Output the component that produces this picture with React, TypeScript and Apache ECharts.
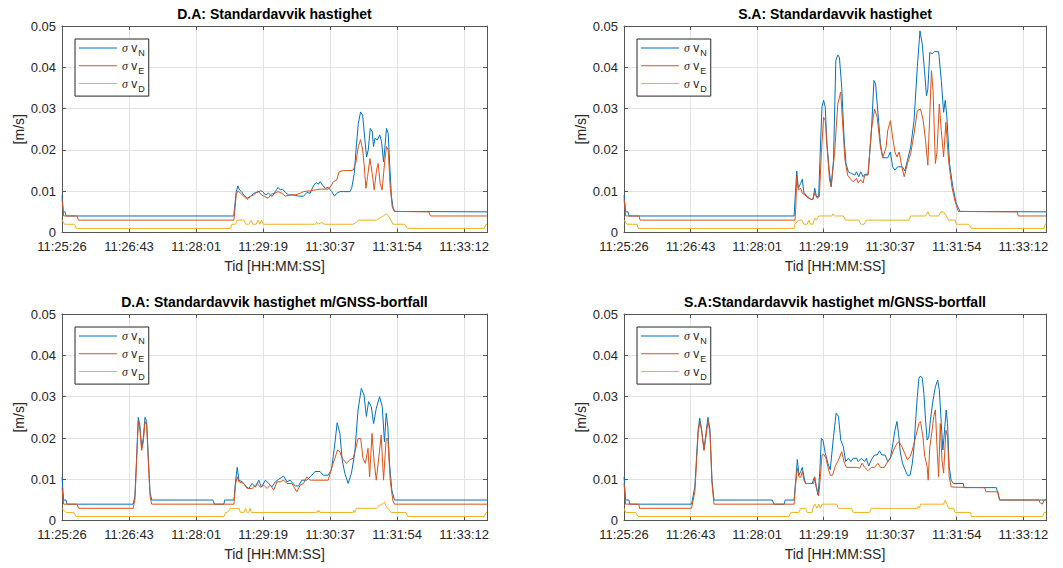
import React, { useEffect, useRef } from 'react';
import * as echarts from 'echarts';

// Time axis: seconds after 11:25:26, seven labelled ticks 466/6 s apart
const TICK_STEP = 466 / 6;
const X_MAX = 492.5;
const timeLabels = ['11:25:26', '11:26:43', '11:28:01', '11:29:19', '11:30:37', '11:31:54', '11:33:12'];

const panelTitles = [
  'D.A: Standardavvik hastighet',
  'S.A: Standardavvik hastighet',
  'D.A: Standardavvik hastighet m/GNSS-bortfall',
  'S.A:Standardavvik hastighet m/GNSS-bortfall',
];
const components = ['N', 'E', 'D'];
const seriesNames = components.map((c) => `σ v${c}`);
const seriesColors = ['#0072BD', '#D95319', '#EDB120'];

// D.A: Standardavvik hastighet  [t (s), sigma (m/s)]
const daN = [[0,0.009],[1.5,0.005],[3.5,0.005],[5,0.004],[199,0.004],[201.9,0.0099],[203.8,0.0113],[205.7,0.0103],[208,0.0099],[210.7,0.0091],[214.5,0.0083],[218.4,0.0087],[222.2,0.0095],[226.1,0.0097],[229.9,0.0101],[232.6,0.0099],[235.7,0.0091],[239.5,0.0095],[243.4,0.0087],[247.2,0.0099],[250.3,0.0109],[253,0.0103],[255.7,0.0105],[258.8,0.0097],[262.6,0.0091],[268.4,0.0091],[274.1,0.0088],[279.9,0.0088],[283.8,0.0097],[287.6,0.0095],[291.4,0.0113],[294.5,0.0121],[297.2,0.0117],[299.1,0.0123],[301.8,0.0115],[304.9,0.0107],[308.7,0.0109],[312.6,0.0099],[315.7,0.0088],[318.4,0.0095],[322,0.0099],[333.7,0.0099],[335.7,0.0107],[338.7,0.0143],[340.7,0.02],[343.4,0.0264],[346,0.0292],[348.4,0.0284],[351,0.0224],[353,0.0183],[354.9,0.02],[357.2,0.0252],[359.5,0.0244],[361,0.0208],[362.6,0.0228],[365.3,0.0224],[368.3,0.0236],[370.3,0.022],[372.6,0.0171],[374.1,0.0204],[376,0.0252],[378,0.024],[379.9,0.0159],[381.8,0.0087],[383.7,0.0059],[385.6,0.0051],[492.5,0.005]];
const daE = [[0,0.008],[2,0.004],[17.5,0.004],[19,0.003],[199.2,0.003],[201.9,0.0091],[203.8,0.0101],[206.9,0.0095],[210.7,0.0088],[214.5,0.008],[218.4,0.0088],[222.2,0.0091],[227.2,0.0101],[231.1,0.0091],[234.9,0.0087],[238.8,0.0083],[242.6,0.0093],[246.5,0.0095],[250.3,0.0099],[254.9,0.0095],[258.8,0.0088],[264.5,0.0091],[270.3,0.0091],[276.1,0.0095],[279.9,0.0099],[287.6,0.0101],[293.4,0.0103],[299.1,0.0105],[308.7,0.0105],[311.8,0.0113],[314.5,0.0123],[318.4,0.0127],[321.1,0.0147],[326,0.015],[333.7,0.015],[337.6,0.0151],[340.7,0.0171],[343.4,0.0208],[346,0.0225],[348.4,0.02],[350.3,0.0159],[352.2,0.0107],[354.1,0.0135],[356.8,0.0179],[359.5,0.0143],[361.8,0.0103],[364.5,0.0151],[366.4,0.0167],[368.7,0.0119],[371,0.0103],[374.1,0.0175],[376,0.0208],[378,0.02],[380.3,0.0111],[382.6,0.0063],[384.9,0.0051],[425,0.005],[427,0.004],[492.5,0.004]];
const daD = [[0,0.003],[3,0.002],[14.4,0.002],[16.4,0.001],[195.3,0.001],[197,0.002],[201,0.002],[203,0.003],[210.7,0.003],[213.4,0.002],[216.5,0.002],[219.2,0.003],[221.1,0.002],[224.9,0.002],[227.2,0.003],[229.5,0.002],[231.1,0.003],[233.4,0.002],[293.4,0.002],[295.3,0.0025],[297.2,0.002],[301.1,0.0025],[304.1,0.002],[337.6,0.002],[341.4,0.0025],[343.4,0.003],[364.5,0.003],[368.3,0.0035],[372.2,0.004],[376,0.0045],[378,0.004],[379.9,0.0035],[383.7,0.002],[397.2,0.002],[400.3,0.001],[489.3,0.001],[491.3,0.002],[492.5,0.002]];

// S.A: Standardavvik hastighet
const saN = [[0,0.009],[2,0.005],[4.7,0.005],[5.9,0.004],[198.5,0.004],[201.6,0.0149],[203.5,0.0107],[206.2,0.0119],[208.1,0.0129],[210,0.0095],[213.8,0.0089],[217.7,0.008],[220.7,0.0081],[222.6,0.0107],[224.6,0.0087],[227.2,0.0087],[229.2,0.0207],[231.1,0.0305],[233,0.032],[234.9,0.0303],[236.8,0.0215],[239.5,0.0151],[241.8,0.0111],[244.5,0.0175],[247.2,0.0416],[249.5,0.043],[251.4,0.0424],[254.1,0.0352],[256.8,0.0231],[259.1,0.0167],[261.8,0.0147],[265.6,0.0143],[269.4,0.0139],[271.4,0.0147],[274,0.0135],[276.3,0.0147],[279,0.0135],[281,0.0141],[284.8,0.0141],[288.6,0.0239],[291.7,0.0368],[293.6,0.036],[296.3,0.0291],[299.3,0.0215],[302,0.0181],[307.8,0.0181],[310.9,0.0195],[313.5,0.0159],[316.2,0.0151],[319.3,0.0159],[325,0.0159],[327.7,0.0149],[330.8,0.0175],[334.6,0.0207],[338.5,0.0271],[342.3,0.04],[345.4,0.0488],[348.1,0.0456],[350.7,0.0392],[353,0.0331],[354.6,0.0347],[356.9,0.0436],[359.6,0.0433],[362.2,0.0438],[367.2,0.0438],[370.3,0.0368],[373,0.0291],[374.9,0.032],[376.8,0.028],[379.9,0.0167],[383.7,0.0111],[387.6,0.0072],[390.2,0.0059],[392.2,0.0051],[492.5,0.005]];
const saE = [[0,0.008],[2,0.004],[17.6,0.004],[18.8,0.003],[199.6,0.003],[200.5,0.0063],[201.6,0.0135],[203.5,0.0103],[206.2,0.0107],[208.1,0.0095],[211.1,0.0091],[215,0.0083],[220.3,0.0079],[222.6,0.0096],[225.3,0.0083],[228,0.0087],[230.3,0.0191],[233,0.0279],[234.9,0.0271],[237.6,0.0191],[239.9,0.0127],[241.8,0.0111],[245.7,0.0191],[249.5,0.0311],[252.9,0.034],[255.2,0.0263],[257.9,0.0175],[261,0.0139],[264.8,0.0128],[267.5,0.0123],[271.4,0.0131],[273.3,0.012],[276.3,0.0128],[279,0.012],[281,0.0139],[284.8,0.0139],[288.6,0.0247],[292.4,0.0299],[295.5,0.0279],[299.3,0.0207],[302,0.0181],[305.9,0.0207],[307.8,0.0247],[310.9,0.0271],[313.5,0.0231],[316.2,0.0195],[318.5,0.0183],[321.2,0.0195],[323.9,0.0163],[327,0.0135],[330.8,0.0167],[334.6,0.0191],[338.5,0.0239],[342.3,0.0295],[346.1,0.0299],[349.2,0.0271],[351.9,0.0223],[354.6,0.0163],[356.9,0.0287],[358.8,0.0392],[360.7,0.0343],[363.4,0.0167],[365.3,0.0195],[368,0.0311],[370.3,0.0247],[373,0.0183],[375.7,0.0267],[378.7,0.0175],[382.6,0.0111],[386.4,0.0075],[390.2,0.0051],[459,0.005],[460,0.004],[492.5,0.004]];
const saD = [[0,0.003],[3.5,0.002],[15.5,0.002],[16.4,0.001],[198.5,0.001],[199.6,0.002],[203.5,0.003],[207.3,0.003],[210,0.002],[213.8,0.002],[215.7,0.003],[217.7,0.002],[220.3,0.002],[222.6,0.0035],[224.6,0.003],[227.2,0.004],[242.6,0.004],[243.7,0.0045],[245.7,0.004],[256,0.004],[258.7,0.003],[274,0.003],[276.3,0.002],[280.2,0.002],[282.9,0.003],[332.7,0.003],[334.6,0.004],[351.9,0.004],[354.6,0.005],[356.9,0.004],[367.2,0.004],[369.9,0.005],[373,0.005],[376.1,0.004],[378.7,0.003],[386.4,0.003],[388,0.002],[402.4,0.002],[405.5,0.001],[490.3,0.001],[491.5,0.002],[492.5,0.002]];

// D.A: Standardavvik hastighet m/GNSS-bortfall
const daGapN = [[0,0.0105],[1.9,0.005],[4.7,0.005],[5.8,0.004],[82.5,0.004],[84.5,0.006],[86.4,0.015],[88.4,0.025],[90.3,0.023],[92.3,0.0175],[94.2,0.02],[96.2,0.025],[98.1,0.024],[100.1,0.015],[102,0.007],[103.9,0.005],[174.8,0.005],[176.7,0.004],[187.6,0.004],[188.5,0.005],[199.3,0.005],[201.2,0.0098],[203.1,0.0129],[205,0.0098],[208.8,0.0094],[212.7,0.0084],[216.5,0.0078],[220.3,0.009],[224.2,0.0081],[228,0.0098],[231.1,0.0081],[235.7,0.0098],[239.5,0.009],[243.4,0.0082],[247.2,0.0094],[251,0.01],[256.8,0.0108],[260.6,0.0094],[264.4,0.0098],[270.2,0.0084],[274,0.0084],[277.9,0.0098],[283.6,0.0098],[289.4,0.011],[293.2,0.0119],[299,0.0119],[302.8,0.011],[308.5,0.011],[312.4,0.0124],[316.2,0.0187],[318.9,0.0237],[322,0.0211],[324.7,0.0147],[327.7,0.0115],[331.6,0.009],[335.4,0.0115],[339.2,0.0163],[343.1,0.0268],[346.9,0.032],[350,0.0304],[352.7,0.0252],[355.3,0.0288],[358.4,0.0276],[361.1,0.0235],[364.2,0.0272],[368,0.03],[371.1,0.0276],[373.7,0.0191],[375.7,0.026],[377.6,0.0227],[379.5,0.0139],[382.2,0.0074],[385.3,0.005],[492.5,0.005]];
const daGapE = [[0,0.008],[1.9,0.004],[17.5,0.004],[19.1,0.003],[82.5,0.003],[84.5,0.005],[86.4,0.014],[88.4,0.024],[90.3,0.022],[92.3,0.017],[94.2,0.019],[96.2,0.024],[98.1,0.023],[100.1,0.014],[102,0.006],[103.9,0.004],[199.3,0.004],[201.2,0.009],[203.1,0.0106],[205,0.0094],[210.8,0.009],[214.6,0.0078],[220.3,0.0078],[226.1,0.009],[229.9,0.0081],[233.8,0.0086],[237.6,0.0078],[241.4,0.0086],[245.3,0.0074],[249.1,0.0094],[252.9,0.0094],[256.8,0.0098],[260.6,0.009],[266.4,0.009],[272.1,0.007],[276,0.0086],[279.8,0.009],[283.6,0.0106],[287.5,0.0098],[293.2,0.0098],[308.5,0.0098],[312.4,0.0127],[316.2,0.0151],[319.3,0.0171],[322,0.0167],[324.7,0.0151],[329.6,0.0139],[333.5,0.0147],[337.3,0.0151],[340,0.0171],[343.1,0.0199],[346.1,0.0199],[348.8,0.0151],[351.5,0.0139],[354.6,0.0175],[356.5,0.0106],[359.2,0.0211],[361.5,0.0147],[364.2,0.0098],[366.8,0.0147],[369.9,0.0207],[372.6,0.0098],[375.7,0.0199],[377.6,0.0199],[380.3,0.0098],[383.3,0.005],[385.3,0.004],[492.5,0.004]];
const daGapD = [[0,0.003],[4.7,0.002],[13.6,0.002],[16.4,0.001],[187.7,0.001],[189.7,0.002],[191.6,0.002],[195.4,0.003],[205,0.003],[206.9,0.002],[210.8,0.002],[212.7,0.003],[214.6,0.002],[216.5,0.002],[217.7,0.003],[219.6,0.002],[295.1,0.002],[296,0.0025],[297,0.002],[298,0.0025],[299,0.002],[337.3,0.002],[338.3,0.0025],[339.2,0.002],[340,0.0025],[341.1,0.003],[364.2,0.003],[366.8,0.0035],[369.9,0.004],[371.1,0.004],[373.7,0.0045],[375.7,0.0035],[381.4,0.002],[398.7,0.002],[400.6,0.001],[489.3,0.001],[491.3,0.002],[492.5,0.002]];

// S.A: Standardavvik hastighet m/GNSS-bortfall
const saGapN = [[0,0.0106],[1.9,0.005],[5.8,0.005],[6.5,0.004],[78.8,0.004],[82.7,0.0082],[86.5,0.022],[88.4,0.0248],[90.4,0.0223],[93.4,0.0171],[96.1,0.022],[98,0.025],[100.4,0.022],[102.7,0.0098],[105,0.005],[173,0.005],[175,0.004],[187,0.004],[188.1,0.005],[198.5,0.005],[200.4,0.0098],[202.3,0.0148],[204.2,0.011],[206.2,0.0119],[208.1,0.0129],[210,0.0106],[211.9,0.009],[219.6,0.009],[222.3,0.0106],[224.2,0.0082],[226.5,0.0062],[228.4,0.0115],[230.3,0.0199],[232.2,0.0195],[234.9,0.0163],[238,0.0139],[240.7,0.0123],[244.5,0.0203],[247.6,0.026],[250.3,0.0252],[253,0.0195],[256,0.0179],[258.7,0.0143],[261.8,0.0151],[264.8,0.0143],[267.5,0.0151],[271.4,0.0151],[273.3,0.0143],[277.1,0.0151],[280.9,0.0143],[282.9,0.0151],[285.5,0.0132],[288.6,0.0147],[292.4,0.0159],[295.5,0.0159],[298.2,0.0169],[300.9,0.0159],[304.7,0.0159],[307.8,0.0143],[310.9,0.0151],[313.9,0.0187],[316.2,0.0219],[318.5,0.024],[320.4,0.0211],[322.4,0.0167],[325,0.0139],[328.1,0.0123],[330.8,0.011],[333.9,0.011],[336.5,0.0139],[338.5,0.0179],[340.4,0.0244],[342.3,0.03],[344.2,0.0345],[346.1,0.035],[348.1,0.0345],[350,0.0308],[351.9,0.0244],[353.8,0.0195],[355.7,0.0203],[357.6,0.0244],[360.7,0.0292],[363.4,0.0324],[366.1,0.034],[368,0.0316],[370.3,0.0235],[372.2,0.0171],[374.1,0.0219],[376,0.0268],[377.6,0.0235],[379.5,0.0131],[381.8,0.0098],[384.5,0.009],[396,0.009],[396.8,0.008],[434.5,0.008],[436.4,0.0066],[438.3,0.005],[492.5,0.005]];
const saGapE = [[0,0.009],[1.9,0.004],[17.3,0.004],[18.1,0.003],[78.8,0.003],[82.7,0.007],[86.5,0.021],[88.4,0.024],[90.4,0.022],[93.4,0.017],[96.1,0.021],[98,0.0242],[100.4,0.021],[102.7,0.009],[105,0.004],[198.5,0.004],[200.4,0.009],[202.3,0.0127],[204.2,0.0106],[206.2,0.0105],[208.1,0.0119],[210,0.0098],[211.9,0.009],[221.5,0.009],[222.6,0.0106],[224.6,0.0082],[227.2,0.006],[229.2,0.0106],[231.1,0.0159],[233,0.0161],[235.7,0.0151],[238.8,0.0123],[240.7,0.011],[243.4,0.011],[246.4,0.0131],[250.3,0.0147],[254.1,0.0167],[257.2,0.0139],[259.8,0.0129],[271.4,0.0129],[275.2,0.0127],[277.9,0.0139],[280.9,0.0129],[284.8,0.0121],[288.6,0.0129],[292.4,0.0129],[296.3,0.0139],[299.3,0.0129],[303.9,0.0129],[307.8,0.0143],[311.6,0.0155],[314.7,0.0171],[318.5,0.0187],[321.2,0.0191],[324.3,0.0179],[327.7,0.0163],[330.8,0.0147],[333.9,0.0155],[336.5,0.0171],[340.4,0.0203],[344.2,0.0235],[346.1,0.024],[348.8,0.0203],[351.1,0.0155],[353.8,0.0131],[355,0.0098],[356.9,0.0179],[359.6,0.0219],[361.5,0.0252],[363.4,0.0268],[365.3,0.0179],[367.2,0.0106],[369.1,0.0235],[371.1,0.0147],[373,0.0115],[375.7,0.0219],[377.6,0.0203],[379.5,0.0106],[381.8,0.0082],[386.4,0.0081],[421,0.008],[422.2,0.007],[436.4,0.007],[438.3,0.005],[484.5,0.005],[485.2,0.0044],[488.3,0.004],[490.3,0.005],[492.5,0.005]];
const saGapD = [[0,0.003],[1.9,0.002],[13.5,0.002],[16.5,0.001],[192.7,0.001],[194.7,0.002],[204,0.002],[206.2,0.003],[211.9,0.003],[213.8,0.002],[219.6,0.002],[220.3,0.003],[222.6,0.004],[225.3,0.003],[227.2,0.004],[229.2,0.003],[231.1,0.004],[248.3,0.004],[250.3,0.003],[265.6,0.003],[267.5,0.002],[286.7,0.002],[288.6,0.003],[342.3,0.003],[343.1,0.0035],[345,0.003],[346.1,0.004],[373,0.004],[374.9,0.005],[376.8,0.004],[378.7,0.003],[384.5,0.003],[386.4,0.002],[404.4,0.002],[405.5,0.001],[488.4,0.001],[490.3,0.002],[492.5,0.002]];

const panelData = [
  [daN, daE, daD],
  [saN, saE, saD],
  [daGapN, daGapE, daGapD],
  [saGapN, saGapE, saGapD],
];

// Layout of the 2x2 panels (pixels)
const grids = [
  { left: 62, top: 26, width: 425, height: 206.5 },
  { left: 624, top: 26, width: 422, height: 206.5 },
  { left: 62, top: 314, width: 425, height: 206.7 },
  { left: 624, top: 314, width: 422, height: 206.7 },
];
const titleTops = [6.5, 6.5, 294.5, 294.5];
const legendSpots = [
  { left: 75, top: 39 },
  { left: 637, top: 39 },
  { left: 75, top: 327 },
  { left: 637, top: 327 },
];

const FONT = '"Liberation Sans", Arial, Helvetica, sans-serif';
const SERIF = '"Liberation Serif", "DejaVu Serif", serif';
const TEXT_COLOR = '#262626';
const AXIS_COLOR = '#555555';
const GRID_COLOR = '#e2e2e2';

function timeLabel(v: number): string {
  const k = v / TICK_STEP;
  const i = Math.round(k);
  if (Math.abs(k - i) > 1e-3) return '';
  return timeLabels[i] ?? '';
}

function buildOption() {
  const xAxis: any[] = [];
  const yAxis: any[] = [];
  const tick = { show: true, inside: true, length: 4, lineStyle: { color: AXIS_COLOR, width: 1 } };
  const line = { show: true, onZero: false, lineStyle: { color: AXIS_COLOR, width: 1 } };

  grids.forEach((_, g) => {
    xAxis.push({
      type: 'value', gridIndex: g, position: 'bottom', min: 0, max: X_MAX, interval: TICK_STEP,
      axisLine: line, axisTick: tick,
      axisLabel: { margin: 7, color: TEXT_COLOR, fontSize: 13, fontFamily: FONT, formatter: timeLabel },
      splitLine: { show: true, lineStyle: { color: GRID_COLOR, width: 1 } },
      name: 'Tid [HH:MM:SS]', nameLocation: 'middle', nameGap: 26,
      nameTextStyle: { color: TEXT_COLOR, fontSize: 14, fontFamily: FONT },
    });
    yAxis.push({
      type: 'value', gridIndex: g, position: 'left', min: 0, max: 0.05, interval: 0.01,
      axisLine: line, axisTick: tick,
      axisLabel: {
        margin: 6, color: TEXT_COLOR, fontSize: 13, fontFamily: FONT,
        formatter: (v: number) => (v === 0 ? '0' : v.toFixed(2)),
      },
      splitLine: { show: true, lineStyle: { color: GRID_COLOR, width: 1 } },
      name: '[m/s]', nameLocation: 'middle', nameGap: 36, nameRotate: 90,
      nameTextStyle: { color: TEXT_COLOR, fontSize: 14, fontFamily: FONT },
    });
  });
  // Opposite-side axes close the box and carry the inner ticks
  grids.forEach((_, g) => {
    xAxis.push({
      type: 'value', gridIndex: g, position: 'top', min: 0, max: X_MAX, interval: TICK_STEP,
      axisLine: line, axisTick: tick, axisLabel: { show: false }, splitLine: { show: false },
    });
    yAxis.push({
      type: 'value', gridIndex: g, position: 'right', min: 0, max: 0.05, interval: 0.01,
      axisLine: line, axisTick: tick, axisLabel: { show: false }, splitLine: { show: false },
    });
  });

  const series: any[] = [];
  panelData.forEach((set, g) => {
    set.forEach((data, i) => {
      series.push({
        type: 'line', name: seriesNames[i], xAxisIndex: g, yAxisIndex: g, data,
        showSymbol: false, symbol: 'none', silent: true, color: seriesColors[i],
        lineStyle: { width: 1, color: seriesColors[i] },
      });
    });
  });

  const title = panelTitles.map((text, g) => ({
    text, left: grids[g].left + grids[g].width / 2, top: titleTops[g], textAlign: 'center', padding: 0,
    textStyle: { color: '#000', fontSize: 14, fontWeight: 'bold', fontFamily: FONT },
  }));

  const legend = legendSpots.map((spot) => ({
    orient: 'vertical', left: spot.left, top: spot.top, padding: [3, 4, 3, 4],
    itemGap: 2.3, itemWidth: 38, itemHeight: 1, icon: 'rect', selectedMode: false,
    backgroundColor: '#ffffff', borderColor: '#262626', borderWidth: 1, borderRadius: 0,
    data: seriesNames,
    formatter: (name: string) => `{g|σ} {v|v}{s|${name.slice(-1)}}`,
    textStyle: {
      color: TEXT_COLOR, fontSize: 12, fontFamily: FONT,
      rich: {
        g: { fontFamily: SERIF, fontStyle: 'italic', fontSize: 12, color: TEXT_COLOR },
        v: { fontFamily: FONT, fontSize: 12, color: TEXT_COLOR },
        s: { fontFamily: FONT, fontSize: 9, color: TEXT_COLOR, padding: [10, 0, 0, 1] },
      },
    },
  }));

  return {
    animation: false,
    backgroundColor: '#ffffff',
    title,
    legend,
    grid: grids.map((r) => ({ ...r, containLabel: false })),
    xAxis,
    yAxis,
    series,
  };
}

export default function App() {
  const ref = useRef<HTMLDivElement>(null);
  useEffect(() => {
    if (!ref.current) return;
    const chart = echarts.init(ref.current, null, { renderer: 'svg' });
    chart.setOption(buildOption() as any);
    return () => chart.dispose();
  }, []);
  return (
    <div
      ref={ref}
      style={{ position: 'absolute', left: 0, top: 0, width: 1063, height: 568, background: '#ffffff' }}
    />
  );
}
